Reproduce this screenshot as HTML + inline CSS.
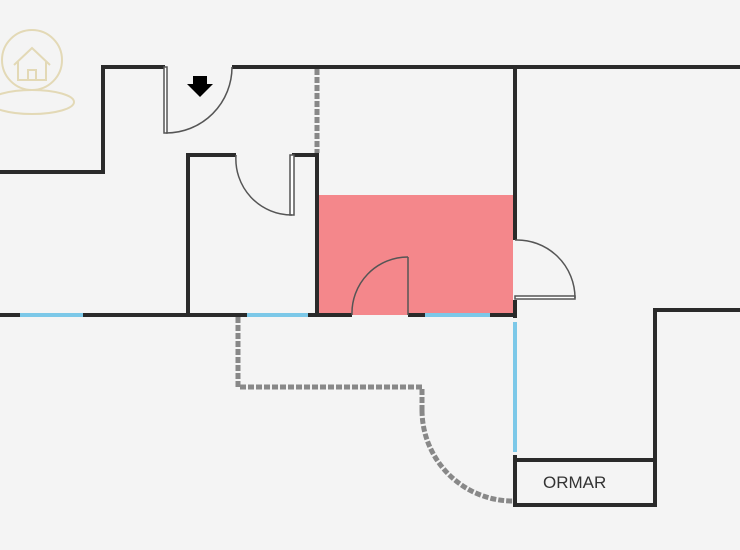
<!DOCTYPE html><html><head><style>body{margin:0;background:#f4f4f4}svg{display:block}</style></head><body>
<svg width="740" height="550" viewBox="0 0 740 550" xmlns="http://www.w3.org/2000/svg">
<rect width="740" height="550" fill="#f4f4f4"/>
<rect x="317" y="195" width="196" height="120" fill="#f4878b"/>
<g fill="none" stroke="#2a2a2a" stroke-width="4">
<polyline points="0,172 103,172 103,67 165,67"/>
<line x1="232" y1="67" x2="740" y2="67"/>
<line x1="515" y1="67" x2="515" y2="240"/>
<line x1="515" y1="300" x2="515" y2="318"/>
<polyline points="188,315 188,155 236,155"/>
<polyline points="292,155 317,155 317,315"/>
<line x1="0" y1="315" x2="352" y2="315"/>
<line x1="408" y1="315" x2="515" y2="315"/>
<polyline points="740,310 655,310 655,505 515,505 515,460 655,460"/>
<line x1="515" y1="455" x2="515" y2="505"/>
</g>
<g stroke="#7cc8e8" stroke-width="4">
<line x1="20" y1="315" x2="83" y2="315"/><line x1="247" y1="315" x2="308" y2="315"/><line x1="425" y1="315" x2="490" y2="315"/><line x1="515" y1="322" x2="515" y2="452"/>
</g>
<g fill="none" stroke="#888" stroke-width="5" stroke-dasharray="6,2">
<line x1="317" y1="69" x2="317" y2="153"/>
<polyline points="238,317 238,387 422,387 422,410"/>
<path d="M422,410 A91,91 0 0 0 513,501"/>
</g>
<g fill="none" stroke="#555" stroke-width="1.5">
<rect x="164" y="67" width="3" height="66" fill="#fff"/>
<path d="M166,133 A66,66 0 0 0 232,67"/>
<rect x="290" y="155" width="4" height="60" fill="#fff"/>
<path d="M292,215 A56,56 0 0 1 236,155"/>
<line x1="408" y1="257" x2="408" y2="315"/>
<path d="M408,257 A56,56 0 0 0 352,315"/>
<rect x="515" y="296" width="60" height="3" fill="#fff"/>
<path d="M515,240 A58,58 0 0 1 575,298"/>
</g>
<path d="M193,76 h14 v8 h6 l-13,13 l-13,-13 h6z" fill="#000"/>
<g fill="none" stroke="#e3d9b6" stroke-width="2">
<circle cx="32" cy="60" r="30"/><ellipse cx="32" cy="102" rx="42" ry="12"/>
<path d="M14,65 L32,48 L50,65 M18,62 v18 h28 v-18 M28,80 v-10 h8 v10"/>
</g>
<text x="543" y="488" font-family="Liberation Sans, sans-serif" font-size="17" fill="#333">ORMAR</text>
</svg>
</body></html>
